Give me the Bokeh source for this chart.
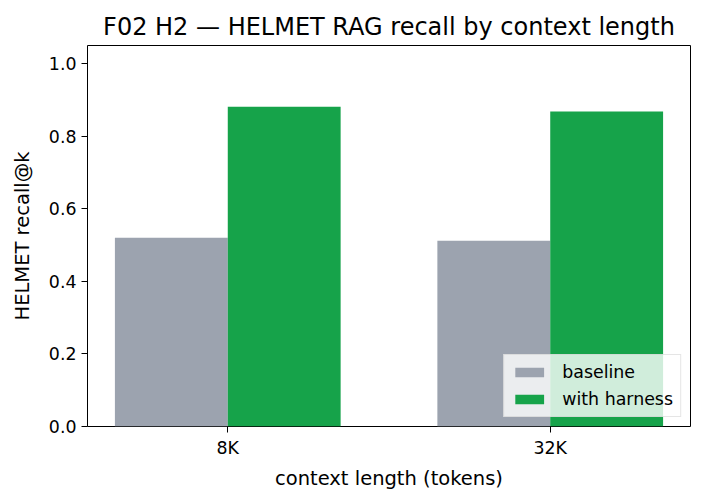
from bokeh.plotting import figure
from bokeh.models import ColumnDataSource, Legend, LegendItem, FixedTicker, Range1d
from bokeh.transform import dodge
from bokeh.embed import file_html
from bokeh.resources import INLINE

# data
contexts = ["8K", "32K"]
baseline = [0.520, 0.512]
with_harness = [0.881, 0.868]

FONT = "DejaVu Sans"
source = ColumnDataSource(data=dict(
    x=list(range(len(contexts))),
    baseline=baseline,
    harness=with_harness,
))

p = figure(width=704, height=500, output_backend="svg", toolbar_location=None,
           x_range=Range1d(-0.435, 1.435), y_range=Range1d(0, 1.05),
           min_border_left=87, min_border_right=14, min_border_bottom=74, min_border_top=45)

p.title.text = "F02 H2 \u2014 HELMET RAG recall by context length"
p.title.align = "center"
p.title.text_font = FONT
p.title.text_font_size = "24px"
p.title.text_font_style = "normal"
p.title.text_color = "black"
p.title.offset = 0
p.title.standoff = 9

bw = 0.35
r1 = p.vbar(x=dodge("x", -bw / 2, range=p.x_range), top="baseline", width=bw,
            source=source, color="#9ca3af", line_color=None)
r2 = p.vbar(x=dodge("x", bw / 2, range=p.x_range), top="harness", width=bw,
            source=source, color="#16a34a", line_color=None)

p.xgrid.visible = False
p.ygrid.visible = False
p.outline_line_color = "black"
p.outline_line_width = 1

p.xaxis.ticker = FixedTicker(ticks=list(range(len(contexts))))
p.xaxis.major_label_overrides = {i: c for i, c in enumerate(contexts)}
p.yaxis.ticker = FixedTicker(ticks=[0.0, 0.2, 0.4, 0.6, 0.8, 1.0])
p.yaxis.major_label_overrides = {0.0: "0.0", 0.2: "0.2", 0.4: "0.4", 0.6: "0.6", 0.8: "0.8", 1.0: "1.0"}
for ax in (p.xaxis, p.yaxis):
    ax.axis_line_color = None
    ax.major_tick_line_color = "black"
    ax.major_tick_out = 6
    ax.major_tick_in = 0
    ax.minor_tick_line_color = None
    ax.major_label_text_font = FONT
    ax.major_label_text_font_size = "17.4px"
    ax.major_label_text_color = "black"
    ax.major_label_standoff = 5
    ax.axis_label_text_font = FONT
    ax.axis_label_text_font_size = "19.5px"
    ax.axis_label_text_font_style = "normal"
    ax.axis_label_text_color = "black"
p.xaxis.axis_label = "context length (tokens)"
p.yaxis.axis_label = "HELMET recall@k"
p.xaxis.axis_label_standoff = 6
p.yaxis.axis_label_standoff = 12

legend = Legend(items=[LegendItem(label="baseline", renderers=[r1]),
                       LegendItem(label="with harness", renderers=[r2])],
                location="bottom_right")
legend.label_text_font = FONT
legend.label_text_font_size = "17.4px"
legend.label_text_color = "black"
legend.glyph_width = 36
legend.glyph_height = 12
legend.label_height = 20
legend.label_standoff = 15
legend.spacing = 7
legend.padding = 7
legend.margin = 9
legend.background_fill_alpha = 0.8
legend.border_line_color = "#cccccc"
legend.border_line_width = 1
p.add_layout(legend)

open("out.html", "w").write(file_html(p, INLINE))
